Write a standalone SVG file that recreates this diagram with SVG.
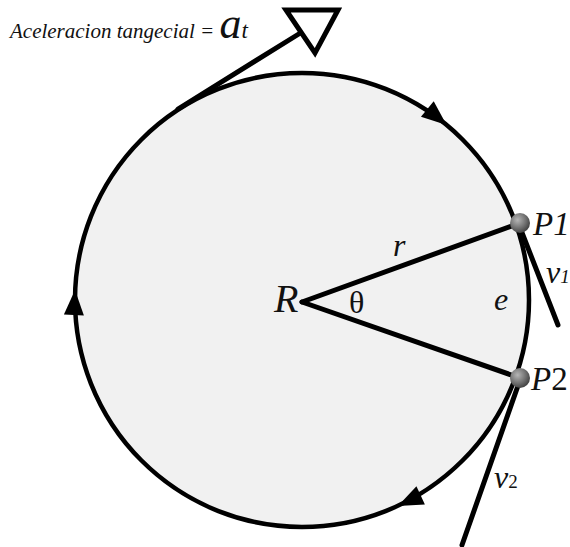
<svg xmlns="http://www.w3.org/2000/svg" width="570" height="547" viewBox="0 0 570 547">
<defs>
<radialGradient id="ball" cx="0.38" cy="0.35" r="0.7">
<stop offset="0" stop-color="#b5b5b5"/>
<stop offset="0.6" stop-color="#6f6f6f"/>
<stop offset="1" stop-color="#3c3c3c"/>
</radialGradient>
<polygon id="ah" points="0,0 -25,-10 -25,10" fill="#000"/>
</defs>
<style>
.ln{stroke:#000;stroke-width:5;fill:none;stroke-linecap:round}
.t{font-family:"Liberation Serif","Times New Roman","DejaVu Serif",serif;fill:#111}
.i{font-style:italic}
</style>
<rect width="570" height="547" fill="#fff"/>
<g id="circle">
<circle cx="302" cy="300" r="227" fill="#f1f1f1" stroke="#000" stroke-width="4.5"/>
</g>
<g id="connectors">
<line class="ln" x1="178" y1="109" x2="302" y2="32"/>
<line class="ln" x1="302" y1="302" x2="520" y2="223"/>
<line class="ln" x1="302" y1="302" x2="520" y2="378"/>
<line class="ln" x1="519" y1="225" x2="558" y2="325"/>
<line class="ln" x1="520" y1="380" x2="462" y2="545"/>
<use href="#ah" transform="translate(446.6,125) rotate(39.6)"/>
<use href="#ah" transform="translate(75,290) rotate(-87.5)"/>
<use href="#ah" transform="translate(398,506) rotate(155)"/>
</g>
<g id="accel-arrowhead">
<polygon points="286,10 338,10 315,53" fill="#fff" stroke="#000" stroke-width="5" stroke-linejoin="miter"/>
</g>
<g id="label-accel">
<text class="t i" x="10" y="38" font-size="21">Aceleracion tangecial = <tspan font-size="44">a</tspan><tspan font-size="23">t</tspan></text>
</g>
<g id="node-R">
<text class="t i" x="274" y="312" font-size="40">R</text>
</g>
<g id="label-theta">
<text class="t" x="349" y="313" font-size="32">θ</text>
</g>
<g id="label-r">
<text class="t i" x="393" y="256" font-size="32">r</text>
</g>
<g id="label-e">
<text class="t i" x="494" y="310" font-size="32">e</text>
</g>
<g id="node-P1">
<circle cx="520" cy="223" r="10" fill="url(#ball)"/>
<text class="t i" x="533" y="235" font-size="33">P1</text>
</g>
<g id="node-P2">
<circle cx="520" cy="378" r="10" fill="url(#ball)"/>
<text class="t i" x="531" y="390" font-size="33">P<tspan font-style="normal">2</tspan></text>
</g>
<g id="label-v1">
<text class="t i" x="546" y="283" font-size="32">v<tspan font-size="19">1</tspan></text>
</g>
<g id="label-v2">
<text class="t i" x="494" y="488" font-size="32">v<tspan font-size="19" font-style="normal">2</tspan></text>
</g>
</svg>
